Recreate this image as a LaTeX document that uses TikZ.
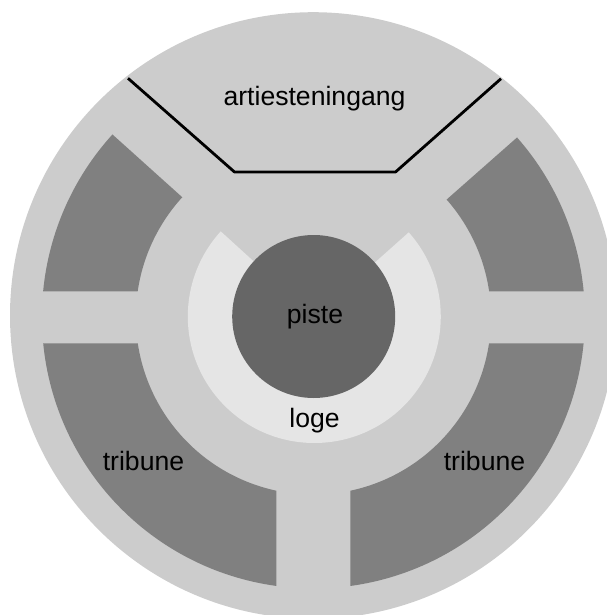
\documentclass[tikz,border=0pt]{standalone}
\usepackage{fontspec}
\setmainfont{Liberation Sans}
\definecolor{terrein}{HTML}{CCCCCC}
\definecolor{rang}{HTML}{808080}
\definecolor{ring}{HTML}{666666}
\definecolor{logekleur}{HTML}{E5E5E5}

\begin{document}
\begin{tikzpicture}[x=1pt,y=1pt,font=\fontsize{26.6}{30}\selectfont,
                    label text/.style={anchor=base,inner sep=0pt},
                    seats/.style={fill=rang,draw=none}]
  \useasboundingbox (0,0) rectangle (606,-615);

  \coordinate (M) at (313.4,-317);

  \fill[terrein] (313.3,-315.5) circle [radius=303.3];

  % tribunes
  \foreach \a/\b/\c/\d in {185.56/262.17/258/188.5,
                           354.44/277.83/282/351.5,
                           174.56/137.75/137.6/171.7,
                           5.44/41.4/41.4/8.33}
    \fill[seats] ([shift={(\a:271.5)}]M) arc [start angle=\a,end angle=\b,radius=271.5]
      -- ([shift={(\c:177.6)}]M) arc [start angle=\c,end angle=\d,radius=177.6] -- cycle;

  % loge en piste
  \coordinate (P) at (314.3,-316.5);
  \fill[logekleur] (P) -- ([shift={(137.7:126.5)}]P) arc [start angle=137.7,end angle=401.7,radius=126.5] -- cycle;
  \fill[ring] (313.7,-316.5) circle [radius=81.5];

  % artiesteningang
  \coordinate (A) at (128,-78.3);
  \coordinate (B) at (234.5,-172);
  \coordinate (C) at (395.5,-172);
  \coordinate (D) at (501,-78.7);
  \draw[line width=2.8pt,line join=round] (A) -- (B) -- (C) -- (D);

  \node[label text] (artiest) at (314.5,-106) {artiesteningang};
  \node[label text] (piste) at (315,-323.5) {piste};
  \node[label text] (loge) at (314.5,-427) {loge};
  \node[label text] (tribL) at (143.5,-470) {tribune};
  \node[label text] (tribR) at (484.5,-470) {tribune};
\end{tikzpicture}
\end{document}
